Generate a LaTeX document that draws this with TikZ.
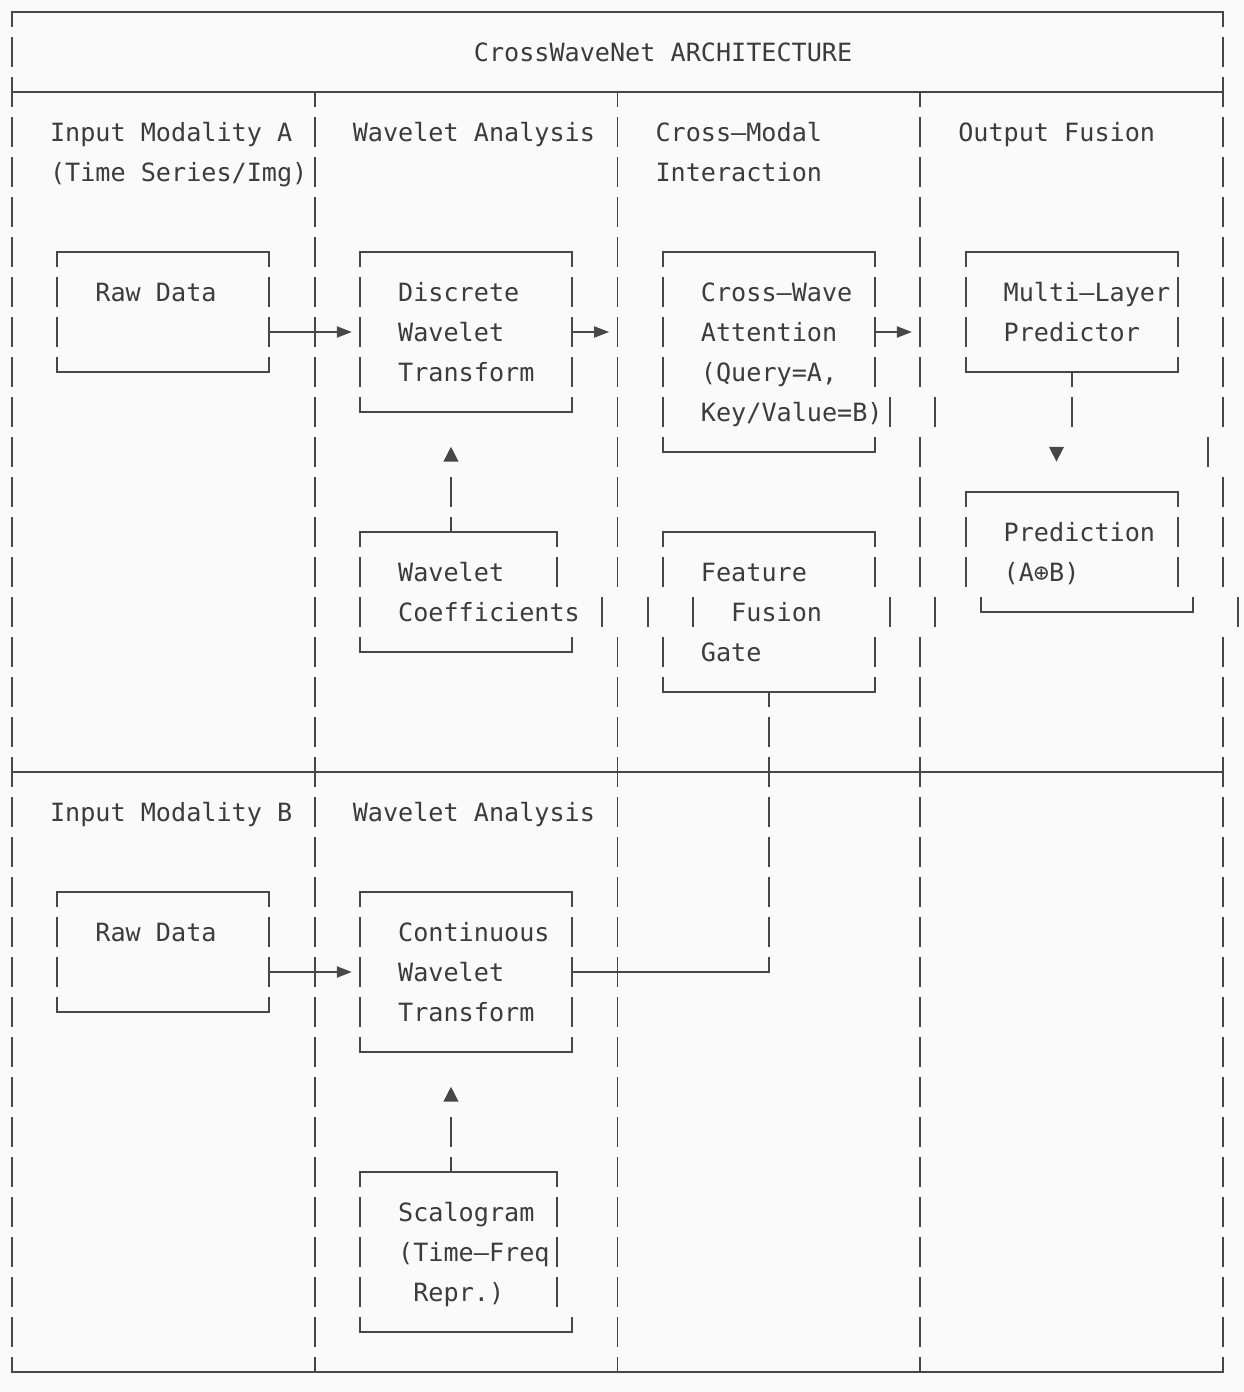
\documentclass[tikz,border=0pt]{standalone}
\usepackage{fontspec}
\usetikzlibrary{arrows.meta}
\newfontfamily\monofont{DejaVu Sans Mono}
\definecolor{ink}{HTML}{3C3C3C}
\definecolor{rule}{HTML}{474747}
\definecolor{paper}{HTML}{FAFAFA}

% One grid unit = one character cell (x) / one text row (y, downwards).
\tikzset{
  ln/.style={draw=rule, line width=1.9pt},
  hrule/.style={ln, line cap=rect},
  wall/.style={ln, dash pattern=on 30pt off 10pt, dash phase=15pt},
  vrun/.style={ln, dash pattern=on 30pt off 10pt},
  txt/.style={inner sep=0pt, anchor=base west, text=ink,
    font=\monofont\fontsize{25.14pt}{40pt}\selectfont},
  flow/.style={hrule, -{Triangle[length=15pt,width=11pt]}},
}

% single vertical glyph bar in cell (col,row)
\newcommand\glyphbar[2]{\draw[ln] (#1,#2-0.375) -- (#1,#2+0.375);}
% box: left col, right col, top row, bottom row
\newcommand\asciibox[4]{%
  \draw[hrule] (#1,#3) -- (#2,#3);
  \draw[hrule] (#1,#4) -- (#2,#4);
  \draw[wall] (#1,#3) -- (#1,#4);
  \draw[wall] (#2,#3) -- (#2,#4);}
% text line: name, col, row, text
\newcommand\gtext[4]{\node[txt] (#1) at (#2-0.5,#3+0.2425) {#4};}
% arrow heads
\newcommand\headup[2]{\fill[rule] (#1-0.5,#2+0.24) -- (#1+0.5,#2+0.24) -- (#1,#2-0.13) -- cycle;}
\newcommand\headdown[2]{\fill[rule] (#1-0.5,#2-0.13) -- (#1+0.5,#2-0.13) -- (#1,#2+0.24) -- cycle;}

\begin{document}
\begin{tikzpicture}[x=15.1375pt, y=-40pt]
\fill[paper] (-0.7927,-0.3) rectangle (81.387,34.5);
\useasboundingbox (-0.7927,-0.3) rectangle (81.387,34.5);

% outer frame and horizontal rules
\draw[hrule] (0,0) -- (80,0);
\draw[hrule] (0,2) -- (80,2);
\draw[hrule] (0,19) -- (80,19);
\draw[hrule] (0,34) -- (80,34);

% column separators
\draw[wall] (0,0) -- (0,34);
\draw[wall] (20,2) -- (20,34);
\draw[wall] (40,2) -- (40,14.375); \glyphbar{39}{15}; \draw[vrun] (40,15.625) -- (40,34);
\draw[wall] (60,2) -- (60,9.375); \glyphbar{61}{10};
\draw[vrun] (60,10.625) -- (60,14.375); \glyphbar{61}{15}; \draw[vrun] (60,15.625) -- (60,34);
\draw[wall] (80,0) -- (80,10.375); \glyphbar{79}{11};
\draw[vrun] (80,11.625) -- (80,14.375); \glyphbar{81}{15}; \draw[vrun] (80,15.625) -- (80,34);

% headings
\gtext{title}{31}{1}{CrossWaveNet ARCHITECTURE}
\gtext{inA1}{3}{3}{Input Modality A}
\gtext{inA2}{3}{4}{(Time Series/Img)}
\gtext{waA}{23}{3}{Wavelet Analysis}
\gtext{cm1}{43}{3}{Cross–Modal}
\gtext{cm2}{43}{4}{Interaction}
\gtext{of}{63}{3}{Output Fusion}
\gtext{inB}{3}{20}{Input Modality B}
\gtext{waB}{23}{20}{Wavelet Analysis}

% regular boxes
\asciibox{3}{17}{6}{9}
\asciibox{23}{37}{6}{10}
\asciibox{63}{77}{6}{9}
\asciibox{3}{17}{22}{25}
\asciibox{23}{37}{22}{26}

% cross-wave attention box
\draw[hrule] (43,6) -- (57,6);
\draw[hrule] (43,11) -- (57,11);
\draw[wall] (43,6) -- (43,11);
\draw[wall] (57,6) -- (57,9.375); \glyphbar{58}{10};
\draw[ln] (57,10.625) -- (57,11);

% feature fusion gate box
\draw[hrule] (43,13) -- (57,13);
\draw[hrule] (43,17) -- (57,17);
\draw[wall] (43,13) -- (43,14.375); \glyphbar{42}{15}; \glyphbar{45}{15};
\draw[vrun] (43,15.625) -- (43,17);
\draw[wall] (57,13) -- (57,14.375); \glyphbar{58}{15};
\draw[vrun] (57,15.625) -- (57,17);

% wavelet coefficients box
\draw[hrule] (23,13) -- (36,13);
\draw[hrule] (23,16) -- (37,16);
\draw[wall] (23,13) -- (23,16);
\draw[wall] (36,13) -- (36,14.375);
\draw[ln] (37,15.625) -- (37,16);

% prediction box
\draw[hrule] (63,12) -- (77,12);
\draw[hrule] (64,15) -- (78,15);
\draw[wall] (63,12) -- (63,14.375);
\draw[wall] (77,12) -- (77,14.375);
\draw[ln] (64,14.625) -- (64,15);
\draw[ln] (78,14.625) -- (78,15);

% scalogram box
\draw[hrule] (23,29) -- (36,29);
\draw[hrule] (23,33) -- (37,33);
\draw[wall] (23,29) -- (23,33);
\draw[wall] (36,29) -- (36,32.375);
\draw[ln] (37,32.625) -- (37,33);

% box texts
\gtext{rawA}{6}{7}{Raw Data}
\gtext{dwt1}{26}{7}{Discrete}
\gtext{dwt2}{26}{8}{Wavelet}
\gtext{dwt3}{26}{9}{Transform}
\gtext{cwa1}{46}{7}{Cross–Wave}
\gtext{cwa2}{46}{8}{Attention}
\gtext{cwa3}{46}{9}{(Query=A,}
\gtext{cwa4}{46}{10}{Key/Value=B)}
\gtext{mlp1}{66}{7}{Multi–Layer}
\gtext{mlp2}{66}{8}{Predictor}
\gtext{wc1}{26}{14}{Wavelet}
\gtext{wc2}{26}{15}{Coefficients}
\gtext{ffg1}{46}{14}{Feature}
\gtext{ffg2}{48}{15}{Fusion}
\gtext{ffg3}{46}{16}{Gate}
\gtext{pred1}{66}{13}{Prediction}
\gtext{pred2}{66}{14}{(A⊕B)}
\gtext{rawB}{6}{23}{Raw Data}
\gtext{cwt1}{26}{23}{Continuous}
\gtext{cwt2}{26}{24}{Wavelet}
\gtext{cwt3}{26}{25}{Transform}
\gtext{sc1}{26}{30}{Scalogram}
\gtext{sc2}{26}{31}{(Time–Freq}
\gtext{sc3}{27}{32}{Repr.)}

% connector end points
\coordinate (rawA-out) at (17,8);
\coordinate (dwt-in) at (22.45,8);
\coordinate (dwt-out) at (37,8);
\coordinate (cwa-in) at (39.45,8);
\coordinate (cwa-out) at (57,8);
\coordinate (of-in) at (59.45,8);
\coordinate (rawB-out) at (17,24);
\coordinate (cwt-in) at (22.45,24);
\coordinate (wc-top) at (29,13);
\coordinate (wc-up) at (29,11.625);
\coordinate (sc-top) at (29,29);
\coordinate (sc-up) at (29,27.625);
\coordinate (mlp-bot) at (70,9);
\coordinate (mlp-down) at (70,10.375);
\coordinate (cwt-out) at (37,24);
\coordinate (bend) at (50,24);
\coordinate (ffg-bot) at (50,17);

% connectors
\draw[flow] (rawA-out) -- (dwt-in);
\draw[flow] (dwt-out) -- (cwa-in);
\draw[flow] (cwa-out) -- (of-in);
\draw[flow] (rawB-out) -- (cwt-in);
\draw[wall] (wc-top) -- (wc-up); \headup{29}{11}
\draw[wall] (sc-top) -- (sc-up); \headup{29}{27}
\draw[wall] (mlp-bot) -- (mlp-down); \headdown{69}{11}
\draw[hrule] (cwt-out) -- (bend);
\draw[wall] (bend) -- (ffg-bot);
\end{tikzpicture}
\end{document}
